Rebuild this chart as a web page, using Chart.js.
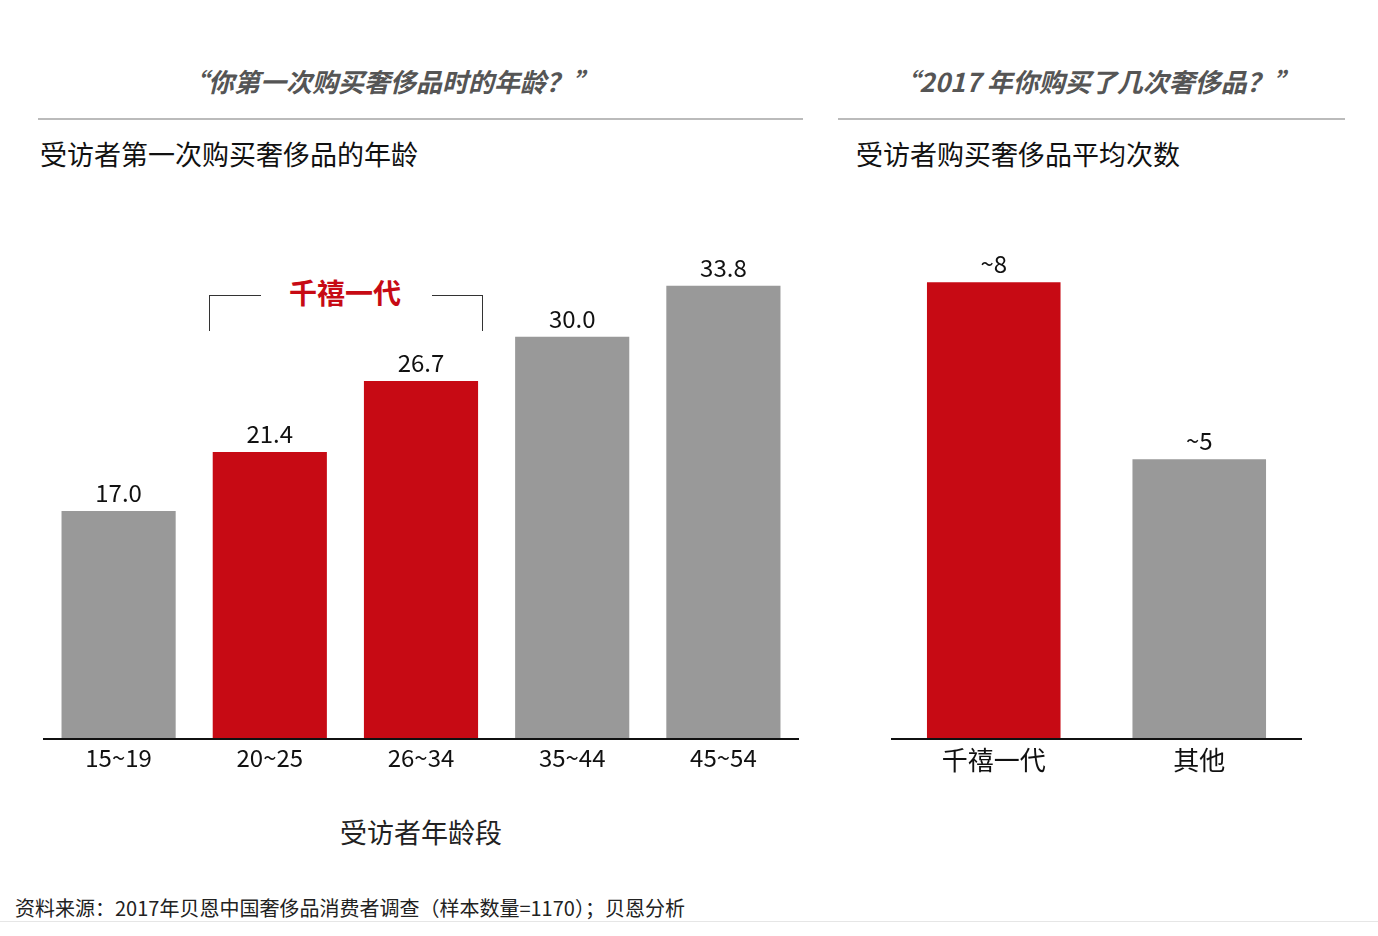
<!DOCTYPE html><html><head><meta charset="utf-8">
<script src="https://cdn.jsdelivr.net/npm/chart.js@4"></script>
<style>
body{margin:0;width:1378px;height:936px;background:#fff;position:relative;font-family:"Noto Sans CJK SC","Noto Sans",sans-serif;overflow:hidden}
.a{position:absolute;white-space:nowrap}
.q{font-size:26px;font-weight:bold;font-style:italic;color:#555;top:62px;transform:translateX(-50%)}
.hl{height:2px;background:#bbb;top:118px}
.st{font-size:27px;color:#111;top:134px}
canvas{position:absolute}
</style></head><body>
<div class="a q" style="left:390px">“你第一次购买奢侈品时的年龄？”</div>
<div class="a q" style="left:1096px">“2017 年你购买了几次奢侈品？”</div>
<div class="a hl" style="left:38px;width:765px"></div>
<div class="a hl" style="left:838px;width:507px"></div>
<div class="a st" style="left:40px">受访者第一次购买奢侈品的年龄</div>
<div class="a st" style="left:856px">受访者购买奢侈品平均次数</div>
<div class="a" style="left:209px;top:295px;width:51px;height:35px;border-top:1.5px solid #333;border-left:1.5px solid #333"></div>
<div class="a" style="left:432px;top:295px;width:50px;height:35px;border-top:1.5px solid #333;border-right:1.5px solid #333"></div>
<div class="a" style="left:345px;top:272px;transform:translateX(-50%);font-size:28px;font-weight:bold;color:#C70A14">千禧一代</div>
<div class="a" style="left:421px;top:812px;transform:translateX(-50%);font-size:27px;color:#222">受访者年龄段</div>
<div class="a" style="left:15px;top:893px;font-size:20px;color:#222">资料来源：2017年贝恩中国奢侈品消费者调查（样本数量=1170）；贝恩分析</div>
<div class="a" style="left:0;top:921px;width:1378px;height:1px;background:#e6e6e6"></div>
<canvas id="c1" style="left:43px;top:200px;width:756px;height:600px"></canvas>
<canvas id="c2" style="left:891px;top:200px;width:411px;height:600px"></canvas>
<script>
const ageGroups=["15~19","20~25","26~34","35~44","45~54"];
const ageValues=[17.0,21.4,26.7,30.0,33.8];
const ageLabels=["17.0","21.4","26.7","30.0","33.8"];
const ageColors=["#999999","#C70A14","#C70A14","#999999","#999999"];
const groups=["千禧一代","其他"];
const purchaseValues=[8,4.9];
const purchaseLabels=["~8","~5"];
const purchaseColors=["#C70A14","#999999"];
const FONT='"Noto Sans CJK SC","Noto Sans",sans-serif';
const deco={id:'deco',afterDatasetsDraw(ch,a,o){
 const c=ch.ctx,x=ch.scales.x,ca=ch.chartArea,lab=ch.options.plugins.deco;
 c.save();c.strokeStyle='#111';c.lineWidth=2;c.beginPath();c.moveTo(0,ca.bottom);c.lineTo(ch.width,ca.bottom);c.stroke();
 c.fillStyle='#111';c.textAlign='center';
 ch.getDatasetMeta(0).data.forEach((b,i)=>{
  c.font='24px '+FONT;c.textBaseline='bottom';c.fillText(lab.vals[i],b.x,b.y-6);
  c.font=lab.cf;c.textBaseline='top';c.fillText(ch.data.labels[i],b.x,ca.bottom+lab.off);
 });c.restore();}};
function make(id,labels,data,colors,max,bp,vals,cf,off){
 new Chart(document.getElementById(id),{type:'bar',data:{labels,datasets:[{data,backgroundColor:colors,categoryPercentage:1,barPercentage:bp}]},
 options:{responsive:false,animation:false,layout:{padding:{bottom:61}},
 scales:{x:{display:false},y:{display:false,min:0,max}},
 plugins:{legend:{display:false},tooltip:{enabled:false},deco:{vals,cf,off}}},plugins:[deco]});
}
make('c1',ageGroups,ageValues,ageColors,40.2,0.755,ageLabels,'24px '+FONT,7);
make('c2',groups,purchaseValues,purchaseColors,9.44,0.65,purchaseLabels,'26px '+FONT,8);
</script></body></html>
